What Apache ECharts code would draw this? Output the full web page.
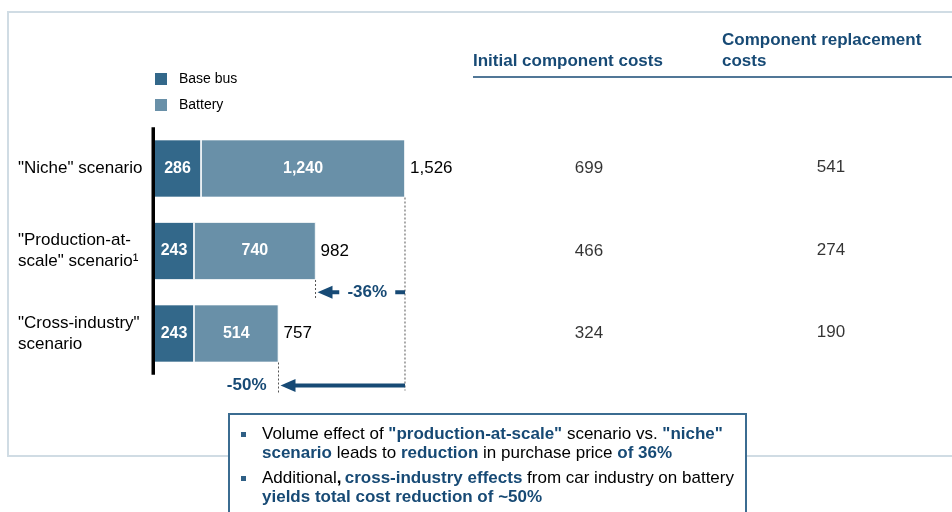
<!DOCTYPE html>
<html>
<head>
<meta charset="utf-8">
<script src="https://cdn.jsdelivr.net/npm/echarts@6/dist/echarts.min.js"></script>
<style>
  html, body { margin: 0; padding: 0; background: #fff; }
  #chart { width: 952px; height: 512px; }
</style>
</head>
<body>
<div id="chart"></div>
<script>
// Purchase price build-up per scenario (stacked bars) and cost columns
const scenarios = ['"Niche" scenario', '"Production-at-scale" scenario', '"Cross-industry" scenario'];
const scenarioLabels = ['"Niche" scenario', '"Production-at-\nscale" scenario¹', '"Cross-industry"\nscenario'];
const baseBus = [286, 243, 243];
const battery = [1240, 740, 514];
const totals = [1526, 982, 757];
const costColumns = ['Initial component costs', 'Component replacement costs'];
const initialComponentCosts = [699, 466, 324];
const replacementCosts = [541, 274, 190];
const reductionLabels = ['-36%', '-50%'];

const FONT = '"Liberation Sans", Arial, sans-serif';
const DARK_BLUE = '#174a75';
const BASE_COLOR = '#33688a';
const BATTERY_COLOR = '#6990a8';
const FS = 17;

const fmt = v => v.toLocaleString('en-US');

const chart = echarts.init(document.getElementById('chart'), null, { renderer: 'canvas' });

const gridLeft = 154, gridTop = 127.25, gridHeight = 247.5;

chart.setOption({
  animation: false,
  textStyle: { fontFamily: FONT },
  legend: {
    data: ['Base bus', 'Battery'],
    orient: 'vertical',
    left: 155,
    top: 72,
    padding: 0,
    icon: 'rect',
    itemWidth: 12,
    itemHeight: 12,
    itemGap: 12,
    selectedMode: false,
    itemStyle: { borderWidth: 0 },
    textStyle: { fontSize: 14, color: '#000', fontFamily: FONT, lineHeight: 12, padding: [0, 0, 0, 7] }
  },
  grid: [
    { left: gridLeft, top: gridTop, width: 1800 * 0.16448, height: gridHeight },
    { left: 468, top: gridTop, width: 490, height: gridHeight }
  ],
  xAxis: [
    { type: 'value', gridIndex: 0, min: 0, max: 1800, show: false },
    { type: 'category', gridIndex: 1, data: costColumns, show: false }
  ],
  yAxis: [
    {
      type: 'category', gridIndex: 0, data: scenarios, inverse: true,
      axisLine: { show: false },
      axisTick: { show: false },
      axisLabel: {
        align: 'left', margin: 136, fontSize: FS, lineHeight: 21, color: '#000',
        fontFamily: FONT,
        formatter: (v, i) => scenarioLabels[i]
      }
    },
    { type: 'category', gridIndex: 1, data: scenarios, inverse: true, show: false }
  ],
  series: [
    {
      name: 'Base bus', type: 'bar', stack: 'price', barWidth: 58, barGap: '-100%',
      data: baseBus,
      itemStyle: { color: BASE_COLOR, borderColor: '#fff', borderWidth: 0.8 },
      label: { show: true, position: 'inside', color: '#fff', fontWeight: 'bold', fontSize: 16, fontFamily: FONT, formatter: p => fmt(p.value) }
    },
    {
      name: 'Battery', type: 'bar', stack: 'price', barWidth: 58, barGap: '-100%',
      data: battery,
      itemStyle: { color: BATTERY_COLOR, borderColor: '#fff', borderWidth: 0.8 },
      label: { show: true, position: 'inside', color: '#fff', fontWeight: 'bold', fontSize: 16, fontFamily: FONT, formatter: p => fmt(p.value) }
    },
    {
      name: 'Total', type: 'bar', barWidth: 58, barGap: '-100%', z: 1,
      data: totals, silent: true,
      itemStyle: { color: 'rgba(0,0,0,0)' },
      label: { show: true, position: 'right', distance: 5, color: '#000', fontSize: FS, fontFamily: FONT, formatter: p => fmt(p.value) }
    },
    {
      name: costColumns[0], type: 'scatter', xAxisIndex: 1, yAxisIndex: 1, symbolSize: 0,
      data: initialComponentCosts.map((v, i) => [costColumns[0], scenarios[i], v]),
      label: { show: true, position: 'inside', color: '#000', fontSize: FS, fontFamily: FONT, formatter: p => fmt(p.value[2]) }
    },
    {
      name: costColumns[1], type: 'scatter', xAxisIndex: 1, yAxisIndex: 1, symbolSize: 0,
      data: replacementCosts.map((v, i) => [costColumns[1], scenarios[i], v]),
      label: { show: true, position: 'inside', color: '#000', fontSize: FS, fontFamily: FONT, offset: [0, -1], formatter: p => fmt(p.value[2]) }
    }
  ]
});

// Overlay: frame, axis spine, column headers, reduction arrows and the summary box
const px = (v, i) => chart.convertToPixel({ xAxisIndex: 0, yAxisIndex: 0 }, [v, i]);
const half = 29;
const [xNiche, y0] = px(totals[0], 0);
const [xScale, y1] = px(totals[1], 1);
const [xCross, y2] = px(totals[2], 2);

const arrow1Y = ((y1 + half) + (y2 - half)) / 2;
const arrow2Y = y2 + half + 23;

const dash = (x, ya, yb) => ({
  type: 'line', z: 5,
  shape: { x1: x, y1: ya, x2: x, y2: yb },
  style: { stroke: '#555', lineWidth: 1, lineDash: [2, 2] }
});
const head = (xTip, y) => ({
  type: 'polygon', z: 6,
  shape: { points: [[xTip, y], [xTip + 15, y - 6.5], [xTip + 15, y + 6.5]] },
  style: { fill: DARK_BLUE }
});
const shaft = (xa, xb, y) => ({
  type: 'line', z: 6,
  shape: { x1: xa, y1: y, x2: xb, y2: y },
  style: { stroke: DARK_BLUE, lineWidth: 4 }
});

const mid1 = (xScale + xNiche) / 2;
const BOLD = 'bold ' + FS + 'px ' + FONT;

const elements = [
  {
    type: 'rect', z: 0,
    shape: { x: 8, y: 12, width: 1000, height: 444 },
    style: { fill: 'none', stroke: '#d0dce4', lineWidth: 2 }
  },
  {
    type: 'line', z: 20,
    shape: { x1: gridLeft - 0.75, y1: gridTop, x2: gridLeft - 0.75, y2: gridTop + gridHeight },
    style: { stroke: '#000', lineWidth: 3.5 }
  },
  {
    type: 'text', z: 5, x: 473, y: 61,
    style: { text: costColumns[0], font: BOLD, fill: DARK_BLUE, verticalAlign: 'middle' }
  },
  {
    type: 'text', z: 5, x: 722, y: 30,
    style: { text: 'Component replacement\ncosts', font: BOLD, lineHeight: 21, fill: DARK_BLUE, verticalAlign: 'top' }
  },
  {
    type: 'line', z: 5,
    shape: { x1: 473, y1: 77, x2: 952, y2: 77 },
    style: { stroke: DARK_BLUE, lineWidth: 1.5 }
  },
  dash(xNiche, y0 + half, arrow2Y + 5),
  dash(xScale, y1 + half, arrow1Y + 6),
  dash(xCross, y2 + half, arrow2Y + 7),
  head(xScale + 2, arrow1Y),
  shaft(xScale + 15, mid1 - 21, arrow1Y),
  shaft(mid1 + 35, xNiche, arrow1Y),
  {
    type: 'text', z: 6, x: mid1 + 7, y: arrow1Y,
    style: { text: reductionLabels[0], font: BOLD, fill: DARK_BLUE, align: 'center', verticalAlign: 'middle' }
  },
  head(xCross + 2, arrow2Y),
  shaft(xCross + 15, xNiche, arrow2Y),
  {
    type: 'text', z: 6, x: xCross - 12, y: arrow2Y,
    style: { text: reductionLabels[1], font: BOLD, fill: DARK_BLUE, align: 'right', verticalAlign: 'middle' }
  },
  {
    type: 'rect', z: 10,
    shape: { x: 229, y: 414, width: 517, height: 130 },
    style: { fill: '#fff', stroke: '#3b6c91', lineWidth: 2 }
  },
  { type: 'rect', z: 11, shape: { x: 241, y: 432, width: 5, height: 5 }, style: { fill: '#2f5f85' } },
  { type: 'rect', z: 11, shape: { x: 241, y: 476, width: 5, height: 5 }, style: { fill: '#2f5f85' } }
];

const rich = {
  n: { fontSize: FS, fontFamily: FONT, fill: '#000', lineHeight: 19 },
  b: { fontSize: FS, fontFamily: FONT, fill: DARK_BLUE, fontWeight: 'bold', lineHeight: 19 },
  k: { fontSize: FS, fontFamily: FONT, fill: '#000', fontWeight: 'bold', lineHeight: 19 }
};
elements.push({
  type: 'text', z: 11, x: 262, y: 425,
  style: {
    text: '{n|Volume effect of }{b|"production-at-scale"}{n| scenario vs. }{b|"niche"}\n' +
          '{b|scenario}{n| leads to }{b|reduction}{n| in purchase price }{b|of 36%}',
    rich, verticalAlign: 'top'
  }
});
elements.push({
  type: 'text', z: 11, x: 262, y: 469,
  style: {
    text: '{n|Additional}{k|,} {b|cross-industry effects}{n| from car industry on battery}\n' +
          '{b|yields total cost reduction of ~50%}',
    rich, verticalAlign: 'top'
  }
});

chart.setOption({ graphic: { elements } });
</script>
</body>
</html>
